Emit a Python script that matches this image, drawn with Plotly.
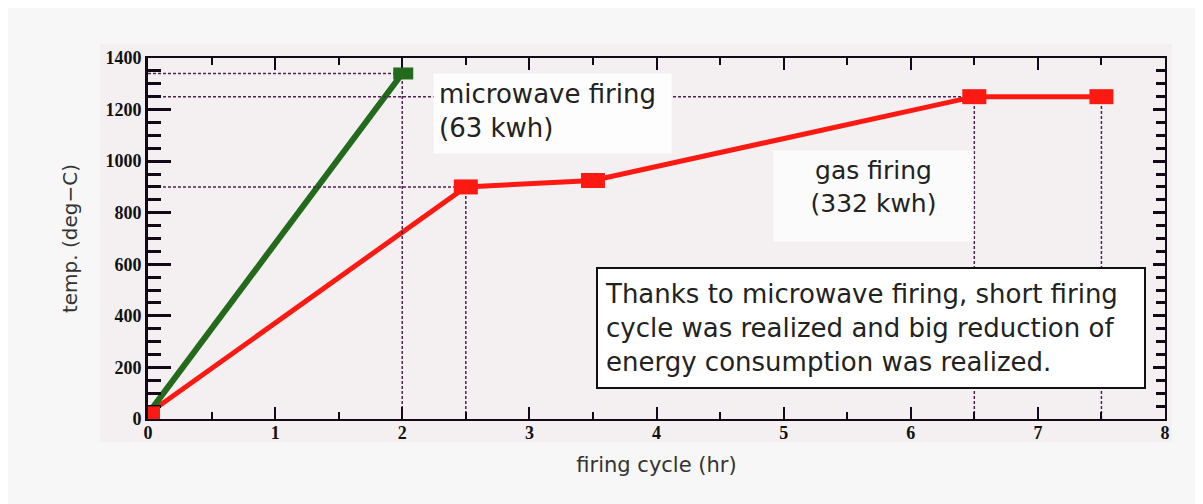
import plotly.graph_objects as go

# ---- data ----
gas_time = [0, 2.5, 3.5, 6.5, 7.5]
gas_temp = [20, 900, 925, 1250, 1250]
mw_time = [0, 2]
mw_temp = [20, 1340]

# guide points (dashed reference lines to the axes)
h_guides_t = [2, 2.5, 6.5]
h_guides_T = [1340, 900, 1250]
v_guides_t = [2, 2.5, 6.5, 7.5]
v_guides_T = [1340, 900, 1250, 1250]

x_ticks = [0, 1, 2, 3, 4, 5, 6, 7, 8]
y_ticks = [0, 200, 400, 600, 800, 1000, 1200, 1400]

mw_label = "microwave firing<br>(63 kwh)"
gas_label = "gas firing<br>(332 kwh)"
note = ("Thanks to microwave firing, short firing<br>"
        "cycle was realized and big reduction of<br>"
        "energy consumption was realized.")

W, H = 1203, 504
OFF = 8  # page body margin
# plot-area edges in screen pixels
SL, SR, ST, SB = 148, 1165, 58, 419


def xp(px):
    return (px - SL) / (SR - SL)


def yp(py):
    return (SB - py) / (SB - ST)


RED = "#fb1a12"
GREEN = "#236a1c"
GUIDE = "#4e2352"
AXIS = "#120818"
TXT_FONT = "DejaVu Sans"

fig = go.Figure()

# dashed guides
gx, gy = [], []
for t, T in zip(h_guides_t, h_guides_T):
    gx += [0, t, None]
    gy += [T, T, None]
for t, T in zip(v_guides_t, v_guides_T):
    gx += [t, t, None]
    gy += [0, T, None]
fig.add_trace(go.Scatter(x=gx, y=gy, mode="lines", yaxis="y2",
                         line=dict(color=GUIDE, width=1.5, dash="3px,2px"),
                         hoverinfo="skip", showlegend=False))

# gas firing line
fig.add_trace(go.Scatter(x=gas_time, y=gas_temp, mode="lines",
                         line=dict(color=RED, width=5),
                         showlegend=False, cliponaxis=False))
# microwave firing line
fig.add_trace(go.Scatter(x=mw_time, y=mw_temp, mode="lines",
                         line=dict(color=GREEN, width=6),
                         showlegend=False, cliponaxis=False))

shapes = []
# background of the embedded picture
shapes.append(dict(type="rect", xref="paper", yref="paper", layer="below",
                   x0=xp(100), x1=xp(1172), y0=yp(442), y1=yp(44),
                   fillcolor="#f4f0f2", line=dict(width=0)))

# rectangular markers (pixel-sized, anchored on data)
for t, T in zip(gas_time, gas_temp):
    shapes.append(dict(type="rect", xref="x", yref="y", layer="above",
                       xsizemode="pixel", ysizemode="pixel",
                       xanchor=t, yanchor=T, x0=-12, x1=12, y0=-7.5, y1=7.5,
                       fillcolor=RED, line=dict(width=0)))
shapes.append(dict(type="rect", xref="x", yref="y", layer="above",
                   xsizemode="pixel", ysizemode="pixel",
                   xanchor=mw_time[-1], yanchor=mw_temp[-1],
                   x0=-9, x1=11, y0=-6, y1=6,
                   fillcolor=GREEN, line=dict(width=0)))

annotations = [
    dict(xref="paper", yref="paper", x=xp(433), y=yp(73), xanchor="left", yanchor="top",
         text=mw_label, showarrow=False, align="left", valign="top",
         width=227, height=69, borderpad=5,
         bgcolor="#fdfdfd", font=dict(family=TXT_FONT, size=26, color="#222")),
    dict(xref="paper", yref="paper", x=xp(773), y=yp(150), xanchor="left", yanchor="top",
         text=gas_label, showarrow=False, align="center", valign="top",
         width=189, height=80, borderpad=5,
         bgcolor="#fbfbfb", font=dict(family=TXT_FONT, size=25, color="#222")),
    dict(xref="paper", yref="paper", x=xp(596), y=yp(267), xanchor="left", yanchor="top",
         text=note, showarrow=False, align="left", width=532, height=104, borderpad=7,
         bgcolor="#ffffff", bordercolor="#111", borderwidth=2,
         font=dict(family=TXT_FONT, size=26, color="#222")),
]

fig.update_layout(
    width=W, height=H,
    margin=dict(l=SL - OFF, r=W - (SR - OFF), t=ST - OFF, b=H - (SB - OFF)),
    paper_bgcolor="#f7f7f7", plot_bgcolor="#f4f0f2",
    shapes=shapes, annotations=annotations,
    xaxis=dict(range=[0, 8], tickvals=x_ticks, ticktext=[str(v) for v in x_ticks],
               ticks="inside", ticklen=12, tickwidth=2, tickcolor=AXIS,
               minor=dict(dtick=0.5, ticks="inside", ticklen=7, tickwidth=2, tickcolor=AXIS),
               showline=True, linewidth=2, linecolor=AXIS, mirror="ticks",
               showgrid=False, zeroline=False, ticklabelstandoff=-4,
               tickfont=dict(family="Liberation Serif", size=18, color="#111", weight="bold"),
               title=dict(text="firing cycle (hr)", standoff=16,
                          font=dict(family=TXT_FONT, size=21, color="#333"))),
    yaxis=dict(range=[0, 1400], tickvals=y_ticks, ticktext=[str(v) for v in y_ticks],
               ticks="inside", ticklen=23, tickwidth=2.5, tickcolor=AXIS,
               minor=dict(dtick=50, ticks="inside", ticklen=13, tickwidth=2.5, tickcolor=AXIS),
               showline=True, linewidth=3, linecolor=AXIS,
               showgrid=False, zeroline=False,
               tickfont=dict(family="Liberation Serif", size=18, color="#111", weight="bold"),
               title=dict(text="temp. (deg−C)", standoff=23,
                          font=dict(family=TXT_FONT, size=20, color="#333"))),
    yaxis2=dict(range=[0, 1400], overlaying="y", side="right", dtick=200,
                ticks="inside", ticklen=12, tickwidth=2.5, tickcolor=AXIS,
                minor=dict(dtick=50, ticks="inside", ticklen=9, tickwidth=2.5, tickcolor=AXIS),
                showline=True, linewidth=2, linecolor=AXIS,
                showticklabels=False, showgrid=False, zeroline=False),
)

fig.write_html("out.html")
